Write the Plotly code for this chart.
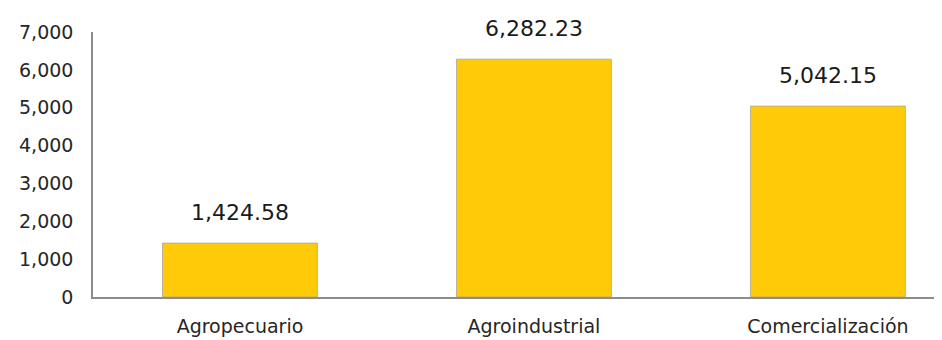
import plotly.graph_objects as go

categories = ["Agropecuario", "Agroindustrial", "Comercialización"]
values = [1424.58, 6282.23, 5042.15]
y_ticks = [0, 1000, 2000, 3000, 4000, 5000, 6000, 7000]

FONT = "DejaVu Sans"
bar_color = "#FFCA08"

fig = go.Figure()
fig.add_trace(go.Bar(
    x=list(range(len(categories))),
    y=values,
    width=0.527,
    marker=dict(color=bar_color, line=dict(color="rgba(160,160,160,0.7)", width=1)),
    hoverinfo="skip",
))

for i, v in enumerate(values):
    fig.add_annotation(
        x=i, y=v, text=f"{v:,.2f}", showarrow=False,
        yanchor="bottom", yshift=16,
        font=dict(family=FONT, size=22, color="#1a1a1a"),
    )

fig.update_layout(
    width=934, height=332,
    margin=dict(l=85, r=0, t=24, b=43, autoexpand=False),
    paper_bgcolor="white", plot_bgcolor="white",
    showlegend=False,
    font=dict(family=FONT, size=18, color="#262626"),
    xaxis=dict(
        range=[-0.5, 2.388],
        tickmode="array",
        tickvals=list(range(len(categories))),
        ticktext=categories,
        showline=True, linecolor="#8c8c8c", linewidth=1.5,
        showgrid=False, zeroline=False, ticks="",
        ticklabelstandoff=11,
        tickfont=dict(family=FONT, size=19, color="#262626"),
    ),
    yaxis=dict(
        range=[0, 7000],
        tickmode="array",
        tickvals=y_ticks,
        ticktext=[f"{t:,}" for t in y_ticks],
        showline=True, linecolor="#8c8c8c", linewidth=1.5,
        showgrid=False, zeroline=False, ticks="",
        ticklabelstandoff=14,
        tickfont=dict(family=FONT, size=19, color="#262626"),
    ),
)

fig.write_html("out.html")
